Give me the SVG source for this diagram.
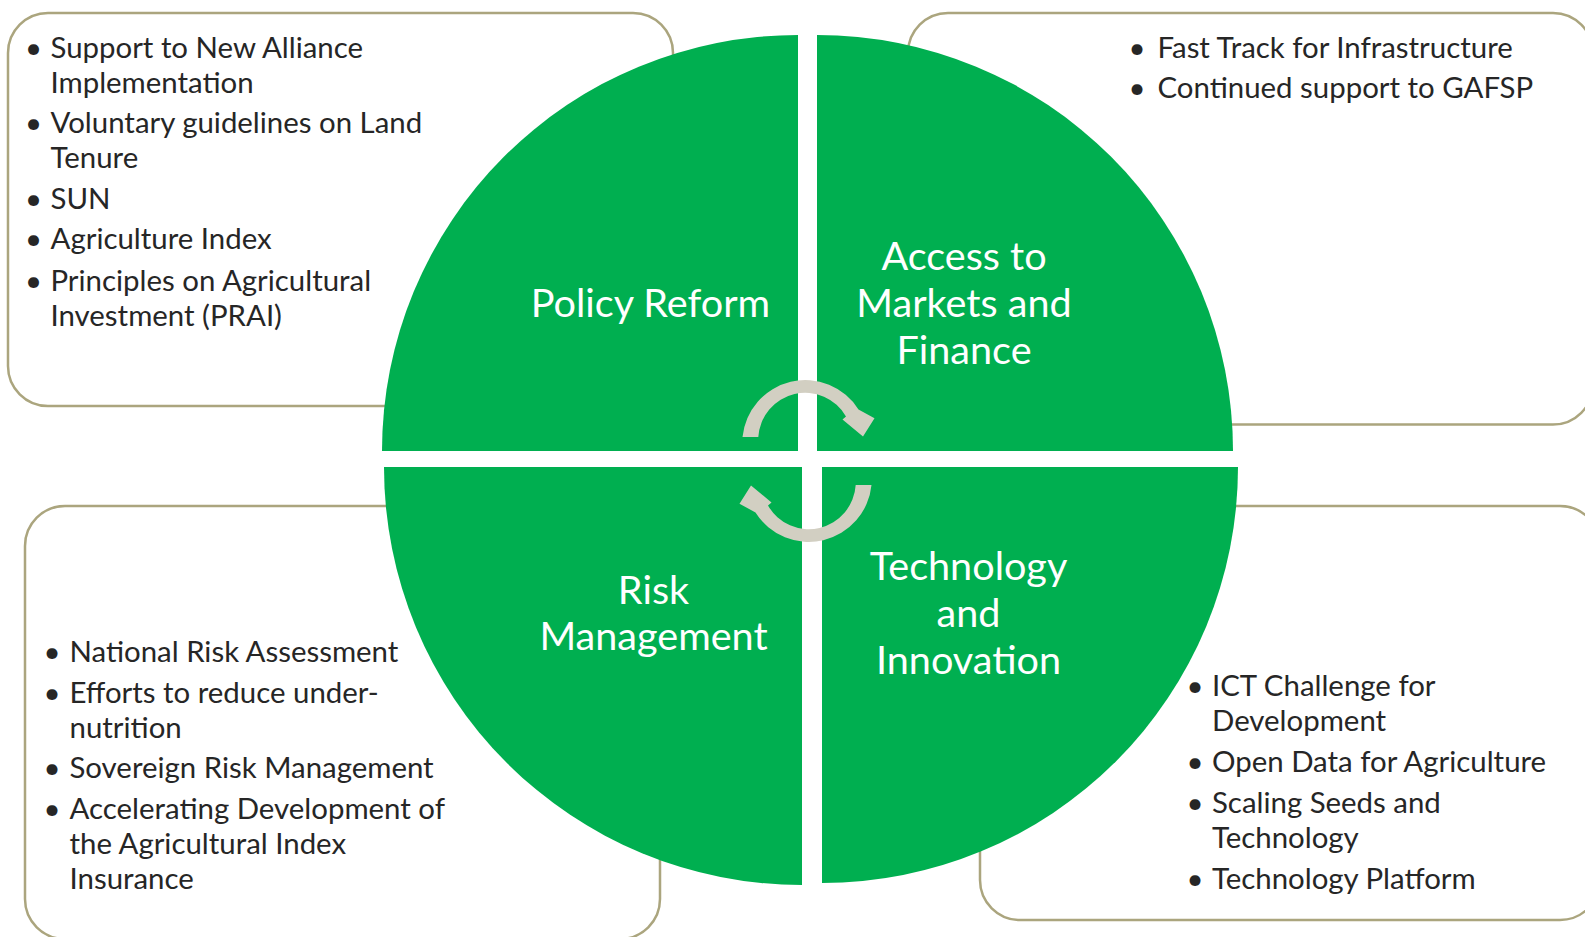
<svg xmlns="http://www.w3.org/2000/svg" width="1585" height="937" viewBox="0 0 1585 937">
<style>
.box{fill:#ffffff;stroke:#ABA57E;stroke-width:2.5}
.quad{fill:#00AF50}
.arrow{fill:#D2CFC2}
.body{font-family:Lato,'Open Sans',sans-serif;font-size:29.4px;fill:#262626}
.bul{font-family:Lato,'Open Sans',sans-serif;font-size:29.4px;fill:#262626;text-anchor:middle}
.label{font-family:Lato,'Open Sans',sans-serif;font-size:39.6px;fill:#ffffff;text-anchor:middle}
</style>
<rect width="1585" height="937" fill="#ffffff"/>
<g id="box-policy">
<rect class="box" x="8" y="13" width="665" height="393" rx="40" ry="40"/>
<text class="bul" x="33.5" y="58">•</text><text class="body" x="50.5" y="58">Support to New Alliance</text>
<text class="body" x="50.5" y="93">Implementation</text>
<text class="bul" x="33.5" y="133">•</text><text class="body" x="50.5" y="133">Voluntary guidelines on Land</text>
<text class="body" x="50.5" y="168">Tenure</text>
<text class="bul" x="33.5" y="209">•</text><text class="body" x="50.5" y="209">SUN</text>
<text class="bul" x="33.5" y="249">•</text><text class="body" x="50.5" y="249">Agriculture Index</text>
<text class="bul" x="33.5" y="291">•</text><text class="body" x="50.5" y="291">Principles on Agricultural</text>
<text class="body" x="50.5" y="326">Investment (PRAI)</text>
</g>
<g id="box-access">
<rect class="box" x="908" y="13" width="685" height="411.5" rx="40" ry="40"/>
<text class="bul" x="1137" y="58">•</text><text class="body" x="1157.5" y="58">Fast Track for Infrastructure</text>
<text class="bul" x="1137" y="98">•</text><text class="body" x="1157.5" y="98">Continued support to GAFSP</text>
</g>
<g id="box-risk">
<rect class="box" x="25" y="506" width="635" height="433" rx="40" ry="40"/>
<text class="bul" x="52" y="662">•</text><text class="body" x="69.5" y="662">National Risk Assessment</text>
<text class="bul" x="52" y="703">•</text><text class="body" x="69.5" y="703">Efforts to reduce under-</text>
<text class="body" x="69.5" y="738">nutrition</text>
<text class="bul" x="52" y="778">•</text><text class="body" x="69.5" y="778">Sovereign Risk Management</text>
<text class="bul" x="52" y="819">•</text><text class="body" x="69.5" y="819">Accelerating Development of</text>
<text class="body" x="69.5" y="854">the Agricultural Index</text>
<text class="body" x="69.5" y="889">Insurance</text>
</g>
<g id="box-tech">
<rect class="box" x="980" y="506" width="620" height="414" rx="40" ry="40"/>
<text class="bul" x="1195" y="696">•</text><text class="body" x="1212" y="696">ICT Challenge for</text>
<text class="body" x="1212" y="731">Development</text>
<text class="bul" x="1195" y="772">•</text><text class="body" x="1212" y="772">Open Data for Agriculture</text>
<text class="bul" x="1195" y="813">•</text><text class="body" x="1212" y="813">Scaling Seeds and</text>
<text class="body" x="1212" y="848">Technology</text>
<text class="bul" x="1195" y="889">•</text><text class="body" x="1212" y="889">Technology Platform</text>
</g>
<g id="quad-policy">
<path class="quad" d="M798,451 L382,451 A416,416 0 0 1 798,35 Z"/>
<text class="label" x="650.5" y="317">Policy Reform</text>
</g>
<g id="quad-access">
<path class="quad" d="M817,451 L817,35 A416,416 0 0 1 1233,451 Z"/>
<text class="label" x="964" y="270">Access to</text>
<text class="label" x="964" y="317">Markets and</text>
<text class="label" x="964" y="364">Finance</text>
</g>
<g id="quad-risk">
<path class="quad" d="M802,467 L802,885 A418,418 0 0 1 384,467 Z"/>
<text class="label" x="653.5" y="604">Risk</text>
<text class="label" x="653.5" y="650">Management</text>
</g>
<g id="quad-tech">
<path class="quad" d="M822,467 L1238,467 A416,416 0 0 1 822,883 Z"/>
<text class="label" x="968.5" y="580">Technology</text>
<text class="label" x="968.5" y="627">and</text>
<text class="label" x="968.5" y="674">Innovation</text>
</g>
<g id="connectors">
<path class="arrow" d="M742.5,437 A63,63 0 0 1 858.5,409.5 L874.5,418.3 L863,436.5 L842.5,419.5 L846,416.5 A47,47 0 0 0 758.3,437 Z"/>
<path class="arrow" d="M742.5,437 A63,63 0 0 1 858.5,409.5 L874.5,418.3 L863,436.5 L842.5,419.5 L846,416.5 A47,47 0 0 0 758.3,437 Z" transform="rotate(180 807 461)"/>
</g>
</svg>
